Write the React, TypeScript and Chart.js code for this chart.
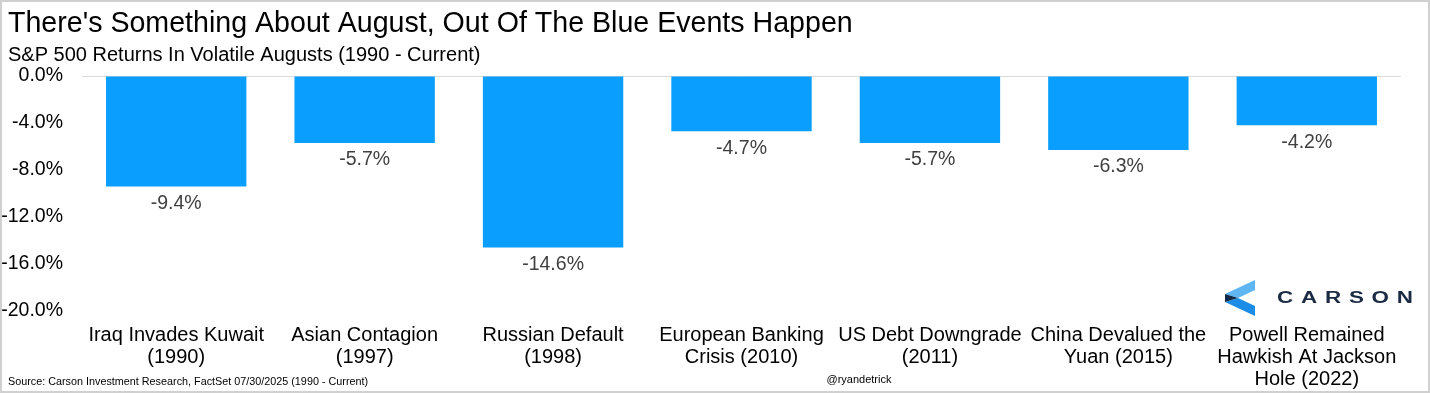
import React, { useEffect, useRef } from 'react';
import { Chart, registerables } from 'chart.js';

Chart.register(...registerables);

const FONT = '"Liberation Sans", Arial, Helvetica, sans-serif';

const titleText = "There's Something About August, Out Of The Blue Events Happen";
const subtitleText = 'S&P 500 Returns In Volatile Augusts (1990 - Current)';
const sourceText = 'Source: Carson Investment Research, FactSet 07/30/2025 (1990 - Current)';
const handleText = '@ryandetrick';
const logoText = 'CARSON';

const categories: string[][] = [
  ['Iraq Invades Kuwait', '(1990)'],
  ['Asian Contagion', '(1997)'],
  ['Russian Default', '(1998)'],
  ['European Banking', 'Crisis (2010)'],
  ['US Debt Downgrade', '(2011)'],
  ['China Devalued the', 'Yuan (2015)'],
  ['Powell Remained', 'Hawkish At Jackson', 'Hole (2022)'],
];

const augustReturns: number[] = [-9.4, -5.7, -14.6, -4.7, -5.7, -6.3, -4.2];

const yMin = -20;
const yMax = 0;
const yStep = 4;

const BAR_COLOR = '#0A9EFF';

const decorPlugin = {
  id: 'decor',
  afterDraw(chart: any) {
    const ctx = chart.ctx as CanvasRenderingContext2D;
    ctx.save();
    // data labels below bars
    const meta = chart.getDatasetMeta(0);
    ctx.font = `19.5px ${FONT}`;
    ctx.fillStyle = '#404040';
    ctx.textAlign = 'center';
    ctx.textBaseline = 'middle';
    meta.data.forEach((bar: any, i: number) => {
      const v = augustReturns[i];
      ctx.fillText(`${v.toFixed(1)}%`, bar.x, bar.y + 17);
    });

    // title & subtitle
    ctx.textAlign = 'left';
    ctx.textBaseline = 'alphabetic';
    ctx.fillStyle = '#000000';
    ctx.font = `28.6px ${FONT}`;
    ctx.fillText(titleText, 8, 32);
    ctx.font = `20px ${FONT}`;
    ctx.fillText(subtitleText, 8, 61);

    // source & handle
    ctx.fillStyle = '#000000';
    ctx.font = `10.8px ${FONT}`;
    ctx.fillText(sourceText, 8, 385);
    ctx.textAlign = 'center';
    ctx.font = `11px ${FONT}`;
    ctx.fillText(handleText, 859, 383);

    // logo
    ctx.fillStyle = '#5FB6F3';
    ctx.beginPath();
    ctx.moveTo(1225, 294);
    ctx.lineTo(1255, 280);
    ctx.lineTo(1255, 290);
    ctx.lineTo(1238, 298);
    ctx.closePath();
    ctx.fill();
    ctx.fillStyle = '#1C8DE6';
    ctx.beginPath();
    ctx.moveTo(1238, 298);
    ctx.lineTo(1255, 306);
    ctx.lineTo(1255, 316);
    ctx.lineTo(1225, 302);
    ctx.closePath();
    ctx.fill();
    ctx.fillStyle = '#0F2947';
    ctx.beginPath();
    ctx.moveTo(1225, 294);
    ctx.lineTo(1238, 298);
    ctx.lineTo(1225, 302);
    ctx.closePath();
    ctx.fill();

    ctx.fillStyle = '#1B2B44';
    ctx.font = `bold 16px ${FONT}`;
    ctx.textAlign = 'left';
    ctx.textBaseline = 'alphabetic';
    const letters = logoText.split('');
    const sx = 1.4;
    const startX = 1277;
    const endX = 1413;
    const widths = letters.map((ch) => ctx.measureText(ch).width * sx);
    let total = 0;
    widths.forEach((w) => (total += w));
    const gap = (endX - startX - total) / (letters.length - 1);
    let x = startX;
    letters.forEach((ch, i) => {
      ctx.save();
      ctx.translate(x, 302.5);
      ctx.scale(sx, 1);
      ctx.fillText(ch, 0, 0);
      ctx.restore();
      x += widths[i] + gap;
    });

    // border
    ctx.strokeStyle = '#D0D0D0';
    ctx.lineWidth = 2;
    ctx.strokeRect(1, 1, chart.width - 2, chart.height - 2);
    ctx.restore();
  },
};

export default function App() {
  const canvasRef = useRef<HTMLCanvasElement | null>(null);

  useEffect(() => {
    document.body.style.margin = '0';
    const canvas = canvasRef.current;
    if (!canvas) return;
    const chart = new Chart(canvas, {
      type: 'bar',
      data: {
        labels: categories,
        datasets: [
          {
            data: augustReturns,
            backgroundColor: BAR_COLOR,
            borderWidth: 0,
            categoryPercentage: 1,
            barPercentage: 0.745,
          },
        ],
      },
      options: {
        responsive: false,
        animation: false,
        devicePixelRatio: 1,
        layout: { padding: { top: 76, right: 29, bottom: 0, left: 0 } },
        plugins: {
          legend: { display: false },
          title: { display: false },
          tooltip: { enabled: false },
        },
        scales: {
          x: {
            grid: { display: false, drawTicks: false },
            border: { display: false },
            afterFit: (s: any) => {
              s.height = 82;
            },
            ticks: {
              color: '#000000',
              autoSkip: false,
              maxRotation: 0,
              minRotation: 0,
              padding: 13,
              font: { family: FONT, size: 20, lineHeight: 22 / 20 },
            },
          },
          y: {
            min: yMin,
            max: yMax,
            grid: {
              drawTicks: false,
              color: (c: any) => (c.tick && c.tick.value === 0 ? '#D9D9D9' : 'rgba(0,0,0,0)'),
              lineWidth: 1,
            },
            border: { display: false },
            afterFit: (s: any) => {
              s.width = 82;
            },
            ticks: {
              stepSize: yStep,
              padding: 19,
              color: '#000000',
              font: { family: FONT, size: 19.5 },
              callback: (v: any) => `${Number(v).toFixed(1)}%`,
            },
          },
        },
      },
      plugins: [decorPlugin],
    });
    return () => chart.destroy();
  }, []);

  return (
    <div style={{ width: 1430, height: 393, background: '#fff' }}>
      <canvas ref={canvasRef} width={1430} height={393} style={{ display: 'block' }} />
    </div>
  );
}
